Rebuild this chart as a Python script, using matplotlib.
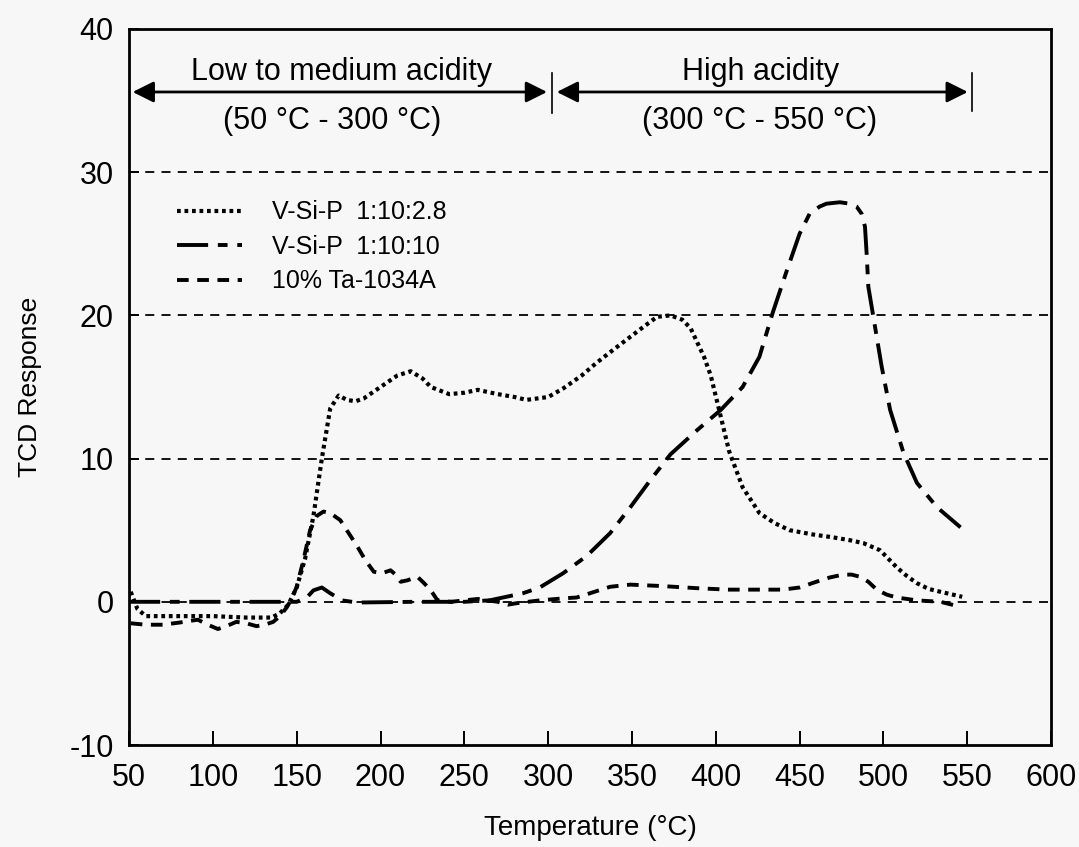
import matplotlib
matplotlib.use("Agg")
import matplotlib.pyplot as plt

plt.rcParams["font.family"] = ["Liberation Sans", "DejaVu Sans"]
plt.rcParams["axes.unicode_minus"] = False

# V-Si-P 1:10:2.8 (dotted)
t_a = [51, 55, 60, 80, 100, 120, 135, 140, 145, 150, 155, 160, 165, 170, 175, 180,
       185, 190, 200, 210, 218, 225, 230, 241, 250, 258, 270, 280, 287, 300, 309,
       320, 329, 340, 349, 358, 365, 373, 380, 385, 389, 393, 397, 402, 408, 416,
       426, 435, 444, 458, 470, 480, 488, 494, 498, 503, 508, 514, 520, 527, 534,
       547]
v_a = [0.7, -0.5, -1.0, -1.0, -1.0, -1.1, -1.1, -0.8, -0.2, 1.0, 3.0, 6.0, 10.0, 13.5,
       14.4, 14.1, 14.0, 14.2, 15.0, 15.8, 16.1, 15.6, 15.0, 14.5, 14.6, 14.8, 14.5,
       14.3, 14.1, 14.3, 14.9, 15.8, 16.7, 17.7, 18.5, 19.3, 19.9, 20.0, 19.7, 19.1,
       18.1, 17.1, 15.8, 13.4, 10.5, 8.0, 6.2, 5.5, 5.0, 4.7, 4.5, 4.3, 4.1, 3.8, 3.6,
       3.0, 2.4, 1.8, 1.3, 0.9, 0.7, 0.35]

# V-Si-P 1:10:10 (dash-dot)
t_b = [50, 100, 150, 156, 160, 165, 170, 177, 186, 220, 250, 265, 275, 285, 295,
       309, 323, 337, 349, 361, 373, 389, 403, 416, 426, 434, 442, 450, 456, 462,
       466, 474, 480, 484, 487, 489, 490, 491, 494, 499, 504, 512, 520, 532, 546]
v_b = [0.0, 0.0, 0.0, 0.3, 0.8, 1.0, 0.6, 0.1, -0.05, 0.0, 0.0, 0.1, 0.35, 0.6, 1.0,
       2.0, 3.2, 4.8, 6.6, 8.5, 10.3, 12.0, 13.4, 15.0, 17.1, 20.2, 23.0, 25.7, 27.1,
       27.6, 27.8, 27.9, 27.8, 27.6, 27.1, 26.2, 24.3, 22.0, 19.9, 16.4, 13.4, 10.4,
       8.3, 6.6, 5.2]

# 10% Ta-1034A (dashed)
t_c = [51, 60, 70, 80, 91, 97, 103, 108, 114, 120, 126, 131, 136, 140, 144, 147,
       150, 154, 158, 162, 166, 170, 176, 181, 186, 191, 196, 201, 206, 209, 212,
       216, 222, 226, 230, 234, 242, 258, 270, 276, 281, 295, 310, 317, 325, 337,
       349, 368, 389, 407, 440, 450, 460, 468, 476, 481, 486, 491, 496, 502, 508,
       520, 534, 546]
v_c = [-1.5, -1.6, -1.6, -1.45, -1.25, -1.6, -1.9, -1.7, -1.4, -1.5, -1.7, -1.6, -1.4,
       -1.0, -0.4, 0.2, 1.05, 2.9, 5.0, 6.0, 6.3, 6.2, 5.7, 4.8, 3.9, 2.9, 2.1, 2.0,
       2.2, 1.9, 1.4, 1.5, 1.75, 1.3, 0.8, 0.1, 0.0, 0.2, 0.0, -0.2, -0.1, 0.1, 0.25,
       0.3, 0.6, 1.05, 1.2, 1.1, 0.95, 0.85, 0.85, 1.0, 1.4, 1.7, 1.9, 1.9, 1.75,
       1.4, 0.85, 0.5, 0.3, 0.1, 0.0, -0.35]

labels = ["V-Si-P  1:10:2.8", "V-Si-P  1:10:10", "10% Ta-1034A"]
x_ticks = [50, 100, 150, 200, 250, 300, 350, 400, 450, 500, 550, 600]
y_ticks = [-10, 0, 10, 20, 30, 40]
grid_levels = [0, 10, 20, 30]

bg = "#f7f7f7"
fig = plt.figure(figsize=(10.79, 8.47), dpi=100, facecolor=bg)
ax = fig.add_axes([0.1196, 0.1204, 0.8545, 0.8454], facecolor=bg)

for g in grid_levels:
    ax.axhline(g, color="black", lw=1.3, ls=(0, (5, 4)), zorder=1)

ax.plot(t_a, v_a, color="black", lw=3.0, ls=(0, (0.9, 0.9)), label=labels[0], zorder=3)
ax.plot(t_b, v_b, color="black", lw=2.8, ls=(0, (8, 2.5, 2.5, 2.5)), label=labels[1], zorder=3)
ax.plot(t_c, v_c, color="black", lw=2.8, ls=(0, (3, 2.2)), label=labels[2], zorder=3)

ax.set_xlim(50, 600)
ax.set_ylim(-10, 40)
ax.set_xticks(x_ticks)
ax.set_yticks(y_ticks)
ax.tick_params(axis="x", direction="in", length=10, width=1.4, labelsize=22, pad=13)
ax.tick_params(axis="y", direction="in", length=7, width=1.4, labelsize=22, pad=11)
for s in ax.spines.values():
    s.set_linewidth(2.0)

ax.set_xlabel("Temperature (°C)", fontsize=20, labelpad=16)
ax.set_ylabel("TCD Response", fontsize=19, labelpad=20)

# acidity range annotations
arrow_kw = dict(arrowstyle="<|-|>", color="black", lw=2.0, mutation_scale=32)
ax.annotate("", xy=(50.5, 35.6), xytext=(301, 35.6), arrowprops=arrow_kw)
ax.annotate("", xy=(303.5, 35.6), xytext=(552, 35.6), arrowprops=arrow_kw)
ax.plot([302.5, 302.5], [34.1, 36.9], color="black", lw=1.2)
ax.plot([553, 553], [34.3, 36.9], color="black", lw=1.2)
ax.text(177, 37.0, "Low to medium acidity", fontsize=22, ha="center", va="center")
ax.text(171, 33.6, "(50 °C - 300 °C)", fontsize=22, ha="center", va="center")
ax.text(427, 37.0, "High acidity", fontsize=22, ha="center", va="center")
ax.text(426, 33.6, "(300 °C - 550 °C)", fontsize=22, ha="center", va="center")

ax.legend(loc="upper left", bbox_to_anchor=(0.028, 0.792), frameon=False, fontsize=18,
          handlelength=2.6, handletextpad=1.2, labelspacing=0.42)

fig.savefig("out.png", dpi=100, facecolor=bg)
